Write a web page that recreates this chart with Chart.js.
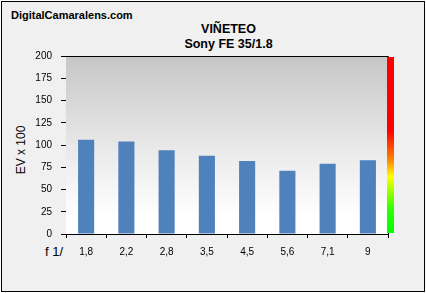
<!DOCTYPE html>
<html>
<head>
<meta charset="utf-8">
<script src="https://cdn.jsdelivr.net/npm/chart.js@4.4.0/dist/chart.umd.min.js"></script>
<style>
  html, body { margin:0; padding:0; background:#ffffff; }
  #wrap { position:relative; width:426px; height:293px; overflow:hidden; }
  #frame { position:absolute; left:1px; top:1px; width:422px; height:289px; border:1px solid #000; background:#f0f0f0; }
  canvas { position:absolute; left:0; top:0; }
  .txt { position:absolute; font-family:"Liberation Sans", Arial, sans-serif; color:#000; white-space:nowrap; }
</style>
</head>
<body>
<div id="wrap">
  <div id="frame"></div>
  <div class="txt" style="left:11px; top:9px; font-size:11px; line-height:13px; font-weight:bold;">DigitalCamaralens.com</div>
  <div class="txt" style="left:128.5px; top:22px; width:200px; text-align:center; font-size:12.5px; line-height:15px; font-weight:bold;">VIÑETEO<br>Sony FE 35/1.8</div>
  <div class="txt" style="left:-29px; top:143px; width:100px; height:14px; text-align:center; font-size:12px; line-height:14px; transform:rotate(-90deg);">EV x 100</div>
  <div class="txt" style="left:45px; top:244px; font-size:13px; line-height:15px;">f 1/</div>
  <canvas id="c" width="426" height="293"></canvas>
</div>
<script>
const categories = ['1,8','2,2','2,8','3,5','4,5','5,6','7,1','9'];
const vignetting = [106, 104, 94, 88, 82, 71, 79, 83];
const yTicks = [0, 25, 50, 75, 100, 125, 150, 175, 200];

const plotDecor = {
  id: 'plotDecor',
  beforeDatasetsDraw(chart) {
    const a = chart.chartArea, ctx = chart.ctx;
    ctx.save();
    const g = ctx.createLinearGradient(0, a.top, 0, a.bottom);
    g.addColorStop(0, '#c6c6c6');
    g.addColorStop(0.55, '#ebebeb');
    g.addColorStop(0.9, '#ffffff');
    g.addColorStop(1, '#ffffff');
    ctx.fillStyle = g;
    ctx.fillRect(a.left, a.top, a.right - a.left, a.bottom - a.top);
    ctx.restore();
  },
  afterDraw(chart) {
    const a = chart.chartArea, ctx = chart.ctx;
    ctx.save();
    ctx.strokeStyle = '#000';
    ctx.lineWidth = 1;
    ctx.beginPath();
    ctx.moveTo(a.left, a.top + 0.5);
    ctx.lineTo(a.right + 0.5, a.top + 0.5);
    ctx.lineTo(a.right + 0.5, a.bottom);
    ctx.stroke();
    // colour scale bar
    const x0 = a.right - 1, w = 7, y0 = a.top + 1, y1 = a.bottom - 1;
    const g = ctx.createLinearGradient(0, y0, 0, y1);
    g.addColorStop(0, '#ff0000');
    g.addColorStop(0.42, '#ff0000');
    g.addColorStop(0.58, '#ff8000');
    g.addColorStop(0.68, '#ffff00');
    g.addColorStop(0.86, '#33ff00');
    g.addColorStop(1, '#00ff00');
    ctx.fillStyle = g;
    ctx.fillRect(x0, y0, w, y1 - y0);
    ctx.restore();
  }
};

new Chart(document.getElementById('c'), {
  type: 'bar',
  data: {
    labels: categories,
    datasets: [{
      data: vignetting,
      backgroundColor: '#4f81bd',
      borderWidth: 0,
      barPercentage: 0.4,
      categoryPercentage: 1.0
    }]
  },
  options: {
    responsive: false,
    animation: false,
    devicePixelRatio: 1,
    layout: { padding: { left: 0, top: 56, right: 38, bottom: 0 } },
    plugins: { legend: { display: false }, tooltip: { enabled: false }, title: { display: false } },
    scales: {
      x: {
        offset: true,
        grid: { offset: true, drawOnChartArea: false, drawTicks: true, tickLength: 4, color: '#000' },
        border: { display: true, color: '#000', width: 1 },
        ticks: { color: '#000', font: { family: 'Liberation Sans', size: 10 }, padding: 8, maxRotation: 0 },
        afterFit(s) { s.height = 59; }
      },
      y: {
        min: 0, max: 200,
        afterBuildTicks(s) { s.ticks = yTicks.map(v => ({ value: v })); },
        grid: { drawOnChartArea: false, drawTicks: true, tickLength: 5, color: '#000' },
        border: { display: true, color: '#000', width: 1 },
        ticks: { color: '#000', font: { family: 'Liberation Sans', size: 10 }, padding: 9 },
        afterFit(s) { s.width = 66; }
      }
    }
  },
  plugins: [plotDecor]
});
</script>
</body>
</html>
